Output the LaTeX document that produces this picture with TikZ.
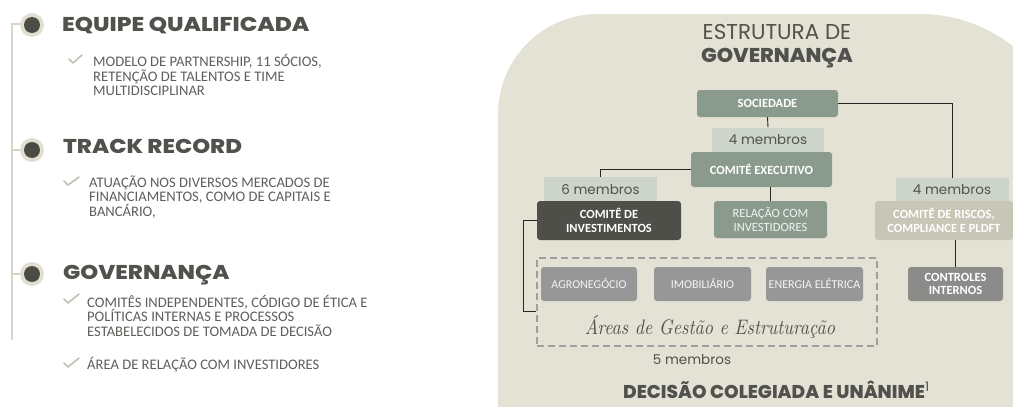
\documentclass[tikz,border=0pt]{standalone}
\usepackage{fontspec}
\setmainfont{Poppins}
\newfontfamily\popf{Poppins}
\newfontfamily\bodyf{Carlito}
\IfFontExistsTF{Poppins ExtraBold}{\newfontfamily\heavy{Poppins ExtraBold}}{\newfontfamily\heavy{Poppins}[FakeBold=2.5]}
\usetikzlibrary{calc}
\definecolor{bgc}{HTML}{E4E2D4}
\definecolor{sage}{HTML}{8A9B8E}
\definecolor{labc}{HTML}{CDD5CB}
\definecolor{darkc}{HTML}{4E4F49}
\definecolor{riskc}{HTML}{C8C6B7}
\definecolor{gboxc}{HTML}{979797}
\definecolor{ctrlc}{HTML}{8B8B89}
\definecolor{txtc}{HTML}{51514D}
\definecolor{bodyc}{HTML}{5E5E5A}
\definecolor{railc}{HTML}{D8D6C8}
\definecolor{chkc}{HTML}{C2C0B2}
\definecolor{ringc}{HTML}{E2DFD2}
\definecolor{dotc}{HTML}{4C4C47}
\tikzset{
  orgbox/.style={rounded corners=3pt, inner sep=0pt, align=center, text=white,
    font=\bodyf\bfseries\fontsize{12.5}{13.5}\selectfont},
  membros/.style={fill=labc, inner sep=0pt, text=txtc, font=\popf\fontsize{13.5}{14}\selectfont},
  conn/.style={draw=black!85, line width=0.9pt},
  ttl/.style={anchor=base west, inner sep=0pt, text=txtc, font=\heavy\fontsize{20}{22}\selectfont},
  bodyl/.style={anchor=base west, inner sep=0pt, text=bodyc, font=\bodyf\fontsize{14.6}{15}\selectfont},
  chk/.style={draw=chkc, line width=1.6pt, line cap=round, line join=round},
}
\begin{document}
\begin{tikzpicture}[x=1pt,y=-1pt]
\useasboundingbox (0,0) rectangle (1013,407);
\clip (0,0) rectangle (1013,407);
% ---------- left column ----------
\draw[railc, line width=1.5pt] (22,24) -- (12,24) -- (12,340);
\draw[railc, line width=1.5pt] (12,150) -- (22,150);
\draw[railc, line width=1.5pt] (12,274) -- (22,274);
\foreach \yy/\nm in {25/ba,150/bb,274/bc}{
  \fill[ringc] (32,\yy) circle[radius=12];
  \fill[dotc] (32,\yy) circle[radius=8];
}
\node[ttl] (t1) at (62,31.5) {\scalebox{1.16}[1]{EQUIPE QUALIFICADA}};
\node[ttl] (t2) at (63,153) {\scalebox{1.14}[1]{TRACK RECORD}};
\node[ttl] (t3) at (63,279) {\scalebox{1.14}[1]{GOVERNANÇA}};
\draw[chk] (69,59) -- (73,63) -- (82,55);
\draw[chk] (64,181) -- (68,185) -- (79,177);
\draw[chk] (64,299) -- (68,303) -- (79,294);
\draw[chk] (64,363) -- (68,367) -- (79,358);
\node[bodyl] (p1a) at (93,66.7) {MODELO DE PARTNERSHIP, 11 SÓCIOS,};
\node[bodyl] (p1b) at (93,81.2) {RETENÇÃO DE TALENTOS E TIME};
\node[bodyl] (p1c) at (93,95.7) {MULTIDISCIPLINAR};
\node[bodyl] (p2a) at (89,187) {ATUAÇÃO NOS DIVERSOS MERCADOS DE};
\node[bodyl] (p2b) at (89,201.5) {FINANCIAMENTOS, COMO DE CAPITAIS E};
\node[bodyl] (p2c) at (89,216) {BANCÁRIO,};
\node[bodyl] (p3a) at (87,307) {COMITÊS INDEPENDENTES, CÓDIGO DE ÉTICA E};
\node[bodyl] (p3b) at (87,321.5) {POLÍTICAS INTERNAS E PROCESSOS};
\node[bodyl] (p3c) at (87,336) {ESTABELECIDOS DE TOMADA DE DECISÃO};
\node[bodyl] (p4a) at (87,369) {ÁREA DE RELAÇÃO COM INVESTIDORES};
% ---------- right panel ----------
\fill[bgc] (498,420) -- (498,114) arc[start angle=180, end angle=270, radius=100]
  -- (920,14) arc[start angle=270, end angle=360, radius=150] -- (1070,420) -- cycle;
\node[anchor=base, inner sep=0pt, text=txtc, font=\popf\fontsize{21.5}{22}\selectfont] (h1) at (777,39) {ESTRUTURA DE};
\node[anchor=base, inner sep=0pt, text=txtc, font=\heavy\fontsize{20}{22}\selectfont] (h2) at (777,62) {\scalebox{1.04}[1]{GOVERNANÇA}};

\node[orgbox, fill=sage, minimum width=141, minimum height=27] (soc) at (767.5,103.5) {SOCIEDADE};
\node[membros, minimum width=112, minimum height=25] (m4a) at (768,140) {4 membros};
\node[orgbox, fill=sage, minimum width=141, minimum height=35] (exec) at (761.5,169.5) {COMITÊ EXECUTIVO};
\node[membros, minimum width=113, minimum height=25] (m6) at (600.5,189.5) {6 membros};
\node[orgbox, fill=darkc, minimum width=144, minimum height=39] (inv) at (609,220.5) {COMITÊ DE\\INVESTIMENTOS};
\node[orgbox, fill=sage, minimum width=113, minimum height=37, text=white!88!sage, font=\bodyf\fontsize{12.5}{13.5}\selectfont] (rel) at (770.5,219.5) {RELAÇÃO COM\\INVESTIDORES};
\node[membros, minimum width=113, minimum height=23] (m4b) at (952,189.5) {4 membros};
\node[orgbox, fill=riskc, minimum width=138, minimum height=39] (risk) at (944,220.5) {COMITÊ DE RISCOS,\\COMPLIANCE E PLDFT};
\node[orgbox, fill=ctrlc, minimum width=95, minimum height=34] (ctrl) at (955.5,284) {CONTROLES\\INTERNOS};

\node[draw=gray!75, dashed, dash pattern=on 7pt off 4pt, line width=1.2pt, minimum width=340, minimum height=88, inner sep=0pt] (areas) at (707,302) {};
\node[orgbox, fill=gboxc, minimum width=96, minimum height=34, text=white!92!gray, font=\bodyf\fontsize{12}{13}\selectfont] (agro) at (589,284) {AGRONEGÓCIO};
\node[orgbox, fill=gboxc, minimum width=97, minimum height=34, text=white!92!gray, font=\bodyf\fontsize{12}{13}\selectfont] (imob) at (702.5,284) {IMOBILIÁRIO};
\node[orgbox, fill=gboxc, minimum width=97, minimum height=34, text=white!92!gray, font=\bodyf\fontsize{12}{13}\selectfont] (ener) at (814.5,284) {ENERGIA ELÉTRICA};
\node[inner sep=0pt, text=txtc] (script) at (710,327) {\resizebox{250pt}{19pt}{\itshape\rmfamily\fontspec{Latin Modern Roman}Áreas de Gestão e Estruturação}};
\node[inner sep=0pt, text=txtc, font=\popf\fontsize{13.5}{14}\selectfont] (m5) at (692,360) {5 membros};
\node[anchor=base west, inner sep=0pt, text=txtc, font=\heavy\fontsize{18.5}{20}\selectfont] (dec) at (623,398) {\scalebox{1.0}[1]{DECISÃO COLEGIADA E UNÂNIME}\textsuperscript{\popf 1}};

% connectors
\draw[conn] (soc.east) -| (m4b.north);
\draw[conn] (soc.south) -- (m4a.north);
\draw[conn] (exec.west) -| (m6.north);
\draw[conn] (rel.north) -- (rel.north |- exec.south);
\draw[conn] (ctrl.north) -- (ctrl.north |- risk.south);
\draw[conn] (inv.west) -- ++(-13,0) |- ($(areas.west)+(0,9)$);
\end{tikzpicture}
\end{document}
